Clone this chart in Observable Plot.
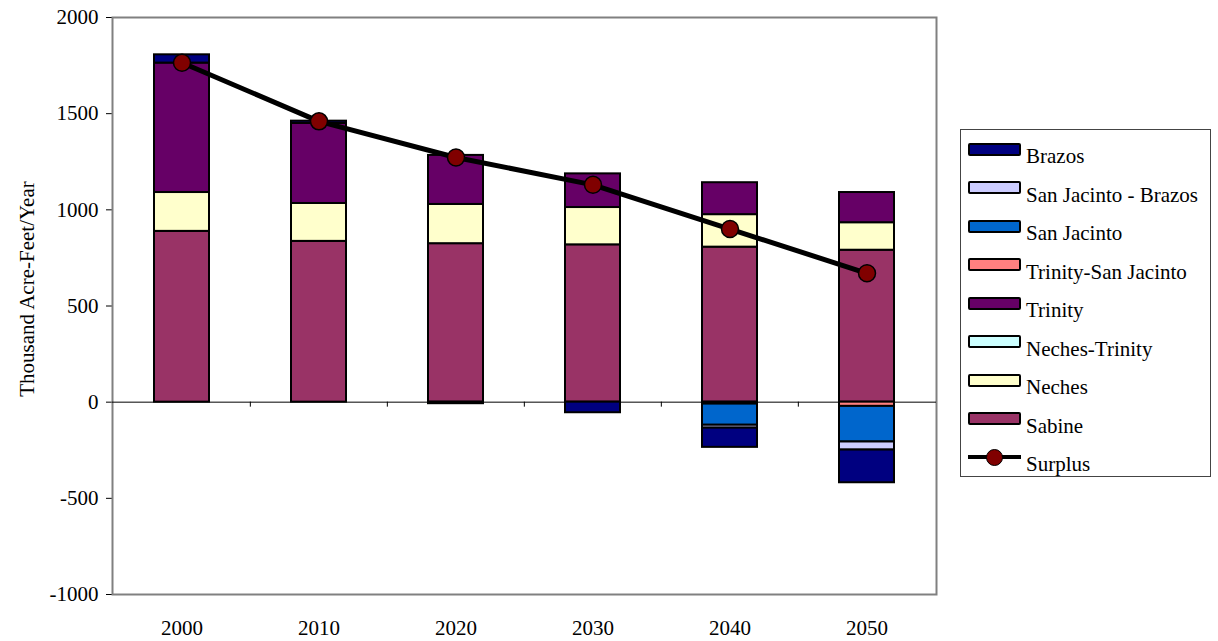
<!DOCTYPE html>
<html><head><meta charset="utf-8">
<script src="https://cdn.jsdelivr.net/npm/d3@7"></script>
<script src="https://cdn.jsdelivr.net/npm/@observablehq/plot@0.6"></script>
<style>
body{margin:0;background:#fff;}
#wrap{position:relative;width:1218px;height:641px;font-family:"Liberation Serif","Times New Roman",serif;color:#000;}
#ylabel{position:absolute;left:-173px;top:277px;width:400px;height:24px;line-height:24px;text-align:center;transform:rotate(-90deg);transform-origin:50% 50%;white-space:nowrap;font-size:21px;}
#legend{position:absolute;left:960px;top:129px;width:251px;height:348px;border:1px solid #444;box-sizing:border-box;background:#fff;}
.sw{position:absolute;left:7px;width:53px;height:13px;border:2px solid #000;border-radius:2px;box-sizing:border-box;}
.lt{position:absolute;left:65px;font-size:21px;line-height:24px;white-space:nowrap;}
.ln{position:absolute;left:7px;width:53px;height:4px;background:#000;}
.dt{position:absolute;left:25px;width:17px;height:17px;border-radius:50%;background:#800000;border:1.5px solid #000;box-sizing:border-box;}
</style>
</head><body>
<div id="wrap"><div id="ylabel"></div><div id="legend"></div></div>
<script>
const years = ["2000","2010","2020","2030","2040","2050"];
const seriesNames = ["Sabine","Neches","Neches-Trinity","Trinity","Trinity-San Jacinto","San Jacinto","San Jacinto - Brazos","Brazos"];
const seriesColors = ["#993366","#FFFFCC","#CCFFFF","#660066","#FF8080","#0066CC","#CCCCFF","#000080"];
const sabine        = [888, 836, 824, 818, 806, 790];
const neches        = [202, 197, 204, 194, 169, 143];
const nechesTrinity = [0, 0, 0, 0, 0, 0];
const trinity       = [673, 416, 255, 175, 166, 157];
const trinitySJ     = [0, 0, 0, 0, -10, -22];
const sanJacinto    = [0, 0, 0, 0, -110, -185];
const sjBrazos      = [0, 0, 0, 0, -15, -42];
const brazos        = [43, 12, -8, -55, -100, -170];
const surplus       = [1765, 1460, 1272, 1130, 900, 670];
const yTicks = [-1000, -500, 0, 500, 1000, 1500, 2000];
const yTitle = "Thousand Acre-Feet/Year";
const legendOrder = ["Brazos","San Jacinto - Brazos","San Jacinto","Trinity-San Jacinto","Trinity","Neches-Trinity","Neches","Sabine","Surplus"];

const seriesValues = [sabine, neches, nechesTrinity, trinity, trinitySJ, sanJacinto, sjBrazos, brazos];
const rows = [];
seriesNames.forEach((s, k) => years.forEach((yr, i) => {
  const v = seriesValues[k][i];
  if (v !== 0) rows.push({year: yr, series: s, value: v});
}));
const surplusRows = years.map((yr, i) => ({year: yr, value: surplus[i]}));

const W = 1218, H = 641, mL = 112, mR = 282, mT = 17, mB = 47;
const halfStep = (W - mL - mR) / years.length / 2;
const font = '"Liberation Serif","Times New Roman",serif';

const chart = Plot.plot({
  width: W, height: H,
  marginLeft: mL, marginRight: mR, marginTop: mT, marginBottom: mB,
  style: {fontFamily: font, fontSize: "21px", color: "#000", background: "#fff"},
  x: {domain: years, paddingInner: 0.6, paddingOuter: 0.3, label: null, tickSize: 0, tickPadding: 26},
  y: {domain: [-1000, 2000], ticks: yTicks, tickFormat: d => String(d), label: null, tickSize: 6, tickPadding: 8},
  color: {domain: seriesNames, range: seriesColors},
  marks: [
    Plot.frame({stroke: "#808080", strokeWidth: 2}),
    Plot.ruleY([0], {stroke: "#000", strokeWidth: 1}),
    Plot.ruleX(years.slice(1), {x: d => d, y1: 0, y2: 0, insetBottom: -5, dx: -halfStep, stroke: "#000"}),
    Plot.barY(rows, {x: "year", y: "value", fill: "series", order: seriesNames, stroke: "#000", strokeWidth: 2}),
    Plot.line(surplusRows, {x: "year", y: "value", stroke: "#000", strokeWidth: 5}),
    Plot.dot(surplusRows, {x: "year", y: "value", r: 8.5, fill: "#800000", stroke: "#000", strokeWidth: 1.5})
  ]
});
const wrap = document.getElementById("wrap");
wrap.insertBefore(chart, wrap.firstChild);
chart.style.position = "absolute"; chart.style.left = "0"; chart.style.top = "0";
document.getElementById("ylabel").textContent = yTitle;

const legend = document.getElementById("legend");
const colorOf = Object.fromEntries(seriesNames.map((s, i) => [s, seriesColors[i]]));
legendOrder.forEach((name, i) => {
  const cy = 26 + i * 38.5;
  if (name === "Surplus") {
    const ln = document.createElement("div"); ln.className = "ln"; ln.style.top = (cy - 7 - 2) + "px"; legend.appendChild(ln);
    const dt = document.createElement("div"); dt.className = "dt"; dt.style.top = (cy - 7 - 8.5) + "px"; legend.appendChild(dt);
  } else {
    const sw = document.createElement("div"); sw.className = "sw"; sw.style.top = (cy - 7 - 6.5) + "px"; sw.style.background = colorOf[name]; legend.appendChild(sw);
  }
  const t = document.createElement("div"); t.className = "lt"; t.style.top = (cy - 12) + "px"; t.textContent = name; legend.appendChild(t);
});
</script>
</body></html>
